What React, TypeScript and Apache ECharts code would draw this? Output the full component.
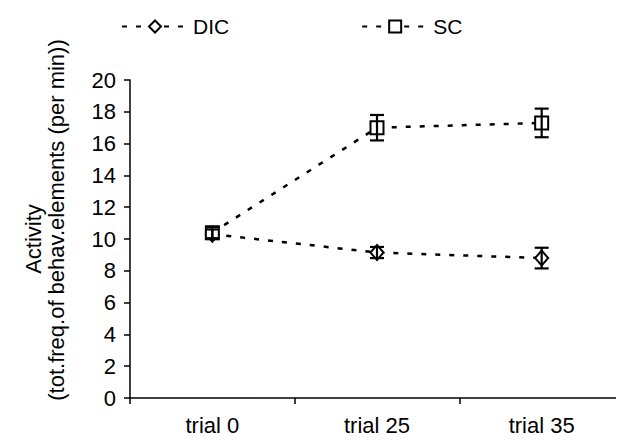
import React, { useEffect, useRef } from "react";
import * as echarts from "echarts";

const categories = ["trial 0", "trial 25", "trial 35"];
const dicValues = [10.3, 9.15, 8.8];
const dicErrors = [0.3, 0.35, 0.65];
const scValues = [10.4, 17.0, 17.3];
const scErrors = [0.35, 0.8, 0.9];
const yTicks = { min: 0, max: 20, interval: 2 };

const FONT = "'Liberation Sans', Arial, sans-serif";

function errorSeries(name: string, values: number[], errors: number[]) {
  return {
    type: "custom",
    name: name + "-err",
    z: 5,
    silent: true,
    data: values.map((v, i) => [i, v - errors[i], v + errors[i]]),
    renderItem: (params: any, api: any) => {
      const i = api.value(0);
      const lo = api.coord([i, api.value(1)]);
      const hi = api.coord([i, api.value(2)]);
      const w = 7;
      const style = { stroke: "#000", lineWidth: 2.2 };
      return {
        type: "group",
        children: [
          { type: "line", shape: { x1: lo[0], y1: lo[1], x2: hi[0], y2: hi[1] }, style },
          { type: "line", shape: { x1: lo[0] - w, y1: lo[1], x2: lo[0] + w, y2: lo[1] }, style },
          { type: "line", shape: { x1: hi[0] - w, y1: hi[1], x2: hi[0] + w, y2: hi[1] }, style },
        ],
      };
    },
  };
}

export default function App() {
  const ref = useRef<HTMLDivElement>(null);
  useEffect(() => {
    if (!ref.current) return;
    const chart = echarts.init(ref.current, undefined, { renderer: "svg" });
    const lineStyle = { color: "#000", width: 2.5, type: [5, 9] as any };
    chart.setOption({
      animation: false,
      backgroundColor: "#fff",
      textStyle: { fontFamily: FONT },
      grid: { left: 130, top: 80, right: 0, bottom: 47, containLabel: false },
      legend: {
        top: 11,
        left: 116,
        itemWidth: 66,
        itemHeight: 15,
        itemGap: 132,
        textStyle: { fontFamily: FONT, fontSize: 21, color: "#000", padding: [0, 0, 0, 0] },
        data: ["DIC", "SC"],
      },
      xAxis: {
        type: "category",
        data: categories,
        boundaryGap: true,
        axisLine: { lineStyle: { color: "#000", width: 1.5 } },
        axisTick: { show: true, length: 6, inside: false, lineStyle: { color: "#000", width: 1.5 } },
        axisLabel: { color: "#000", fontSize: 22, fontFamily: FONT, margin: 16 },
        splitLine: { show: false },
      },
      yAxis: {
        type: "value",
        min: yTicks.min,
        max: yTicks.max,
        interval: yTicks.interval,
        axisLine: { show: true, lineStyle: { color: "#000", width: 1.5 } },
        axisTick: { show: true, length: 6, lineStyle: { color: "#000", width: 1.5 } },
        axisLabel: { color: "#000", fontSize: 22, fontFamily: FONT, margin: 14 },
        splitLine: { show: false },
      },
      graphic: [
        {
          type: "text",
          x: 33,
          y: 239,
          rotation: Math.PI / 2,
          style: {
            text: "Activity",
            fontSize: 22,
            fontFamily: FONT,
            fill: "#000",
            align: "center",
            verticalAlign: "middle",
          },
        },
        {
          type: "text",
          x: 56,
          y: 220,
          rotation: Math.PI / 2,
          style: {
            text: "(tot.freq.of behav.elements (per min))",
            fontSize: 22,
            fontFamily: FONT,
            fill: "#000",
            align: "center",
            verticalAlign: "middle",
          },
        },
      ],
      series: [
        {
          name: "DIC",
          type: "line",
          data: dicValues,
          symbol: "diamond",
          symbolSize: [13, 15],
          showAllSymbol: true,
          z: 3,
          lineStyle,
          itemStyle: { color: "#fff", borderColor: "#000", borderWidth: 2 },
        },
        {
          name: "SC",
          type: "line",
          data: scValues,
          symbol: "rect",
          symbolSize: 13,
          showAllSymbol: true,
          z: 3,
          lineStyle,
          itemStyle: { color: "#fff", borderColor: "#000", borderWidth: 2 },
        },
        errorSeries("DIC", dicValues, dicErrors),
        errorSeries("SC", scValues, scErrors),
      ],
    });
    return () => chart.dispose();
  }, []);
  return <div ref={ref} style={{ width: 624, height: 445, margin: -8 }} />;
}
